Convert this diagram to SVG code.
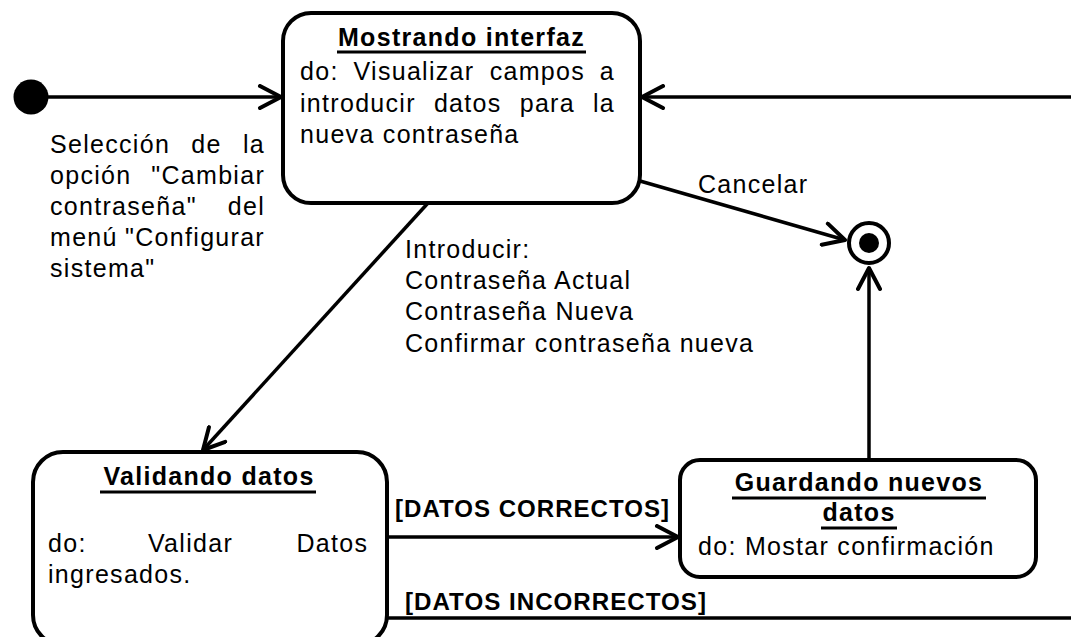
<svg xmlns="http://www.w3.org/2000/svg" width="1071" height="637" viewBox="0 0 1071 637">
<style>
.box{fill:#fff;stroke:#000;stroke-width:4}
.ln{fill:none;stroke:#000;stroke-width:3.5}
.t{font-family:"Liberation Sans",Arial,sans-serif;font-size:25px;letter-spacing:1.3px;fill:#000}
.b{font-family:"Liberation Sans",Arial,sans-serif;font-size:25px;font-weight:bold;letter-spacing:1.3px;fill:#000}
.g{font-family:"Liberation Sans",Arial,sans-serif;font-size:24px;font-weight:bold;letter-spacing:1px;fill:#000}
.ul{stroke:#000;stroke-width:3}
</style>
<defs>
<marker id="arr" viewBox="-24 -13 28 26" refX="0" refY="0" markerWidth="28" markerHeight="26" markerUnits="userSpaceOnUse" orient="auto">
<path d="M-21,-11 L0,0 L-21,11" fill="none" stroke="#000" stroke-width="4" stroke-linecap="round" stroke-linejoin="round"/>
</marker>
</defs>
<rect width="1071" height="637" fill="#fff"/>

<g id="connectors">
<line class="ln" x1="48" y1="97" x2="281" y2="97" marker-end="url(#arr)"/>
<line class="ln" x1="1071" y1="97" x2="642" y2="97" marker-end="url(#arr)"/>
<line class="ln" x1="640" y1="181" x2="845" y2="240" marker-end="url(#arr)"/>
<line class="ln" x1="428" y1="203" x2="203" y2="450" marker-end="url(#arr)"/>
<line class="ln" x1="387" y1="537" x2="678" y2="537" marker-end="url(#arr)"/>
<line class="ln" x1="869" y1="460" x2="869" y2="268" marker-end="url(#arr)"/>
<line class="ln" x1="387" y1="618" x2="1071" y2="618"/>
<text class="t" x="50" y="153"><tspan x="50">Selección</tspan><tspan x="191.3">de</tspan><tspan x="243">la</tspan></text>
<text class="t" x="50" y="184"><tspan x="50">opción</tspan><tspan x="151.3">"Cambiar</tspan></text>
<text class="t" x="50" y="215"><tspan x="50">contraseña"</tspan><tspan x="227.8">del</tspan></text>
<text class="t" x="50" y="246"><tspan x="50">menú</tspan><tspan x="125.1">"Configurar</tspan></text>
<text class="t" x="50" y="277">sistema"</text>
<text class="t" x="698" y="193">Cancelar</text>
<text class="t" x="405" y="258">Introducir:</text>
<text class="t" x="405" y="289">Contraseña Actual</text>
<text class="t" x="405" y="320">Contraseña Nueva</text>
<text class="t" x="405" y="352">Confirmar contraseña nueva</text>
<text class="g" x="395" y="517" textLength="275" lengthAdjust="spacingAndGlyphs">[DATOS CORRECTOS]</text>
<text class="g" x="405" y="610" textLength="302" lengthAdjust="spacingAndGlyphs">[DATOS INCORRECTOS]</text>
</g>

<g id="initial">
<circle cx="31" cy="97" r="17.5" fill="#000"/>
</g>

<g id="final">
<circle cx="869" cy="243" r="20" fill="#fff" stroke="#000" stroke-width="4"/>
<circle cx="869" cy="243" r="10" fill="#000"/>
</g>

<g id="mostrando">
<rect class="box" x="283" y="13" width="357" height="190" rx="28" ry="28"/>
<text class="b" x="461.5" y="46" text-anchor="middle">Mostrando interfaz</text>
<line class="ul" x1="337" y1="52" x2="586" y2="52"/>
<text class="t" y="80"><tspan x="300">do:</tspan><tspan x="353.5">Visualizar</tspan><tspan x="489.7">campos</tspan><tspan x="599.8">a</tspan></text>
<text class="t" y="112"><tspan x="300">introducir</tspan><tspan x="433.9">datos</tspan><tspan x="519.7">para</tspan><tspan x="593">la</tspan></text>
<text class="t" x="300" y="143">nueva contraseña</text>
</g>

<g id="validando">
<rect class="box" x="33" y="452" width="354" height="193" rx="30" ry="30"/>
<text class="b" x="209" y="485" text-anchor="middle">Validando datos</text>
<line class="ul" x1="100" y1="492" x2="316" y2="492"/>
<text class="t" y="552"><tspan x="48">do:</tspan><tspan x="148">Validar</tspan><tspan x="296.5">Datos</tspan></text>
<text class="t" x="48" y="583">ingresados.</text>
</g>

<g id="guardando">
<rect class="box" x="680" y="460" width="356" height="117" rx="20" ry="20"/>
<text class="b" x="859" y="491" text-anchor="middle">Guardando nuevos</text>
<line class="ul" x1="732" y1="498" x2="986" y2="498"/>
<text class="b" x="859" y="521" text-anchor="middle">datos</text>
<line class="ul" x1="821" y1="528" x2="897" y2="528"/>
<text class="t" x="698" y="555">do: Mostar confirmación</text>
</g>
</svg>
